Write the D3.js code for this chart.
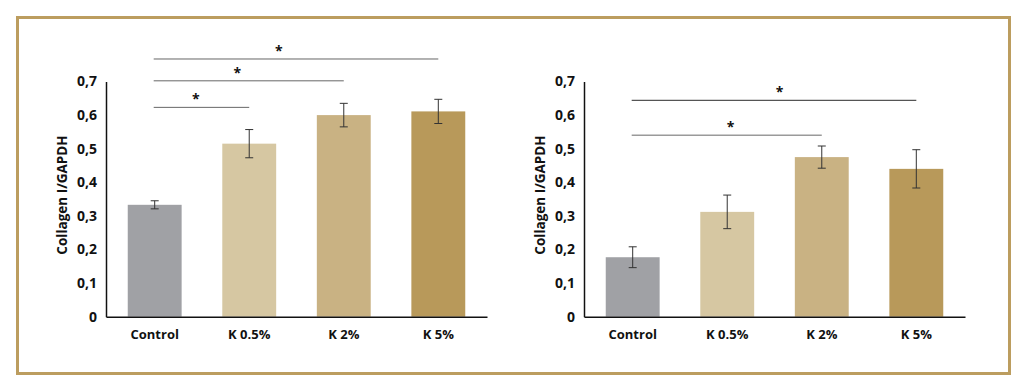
<!DOCTYPE html>
<html>
<script src="https://d3js.org/d3.v7.min.js"></script>
<style>
  body { margin: 0; background: #fff; }
  text { font-family: "Open Sans", sans-serif; font-weight: bold; fill: #111; }
</style>
<body>
<div id="chart"></div>

<script>
    // data
    var categories = ["Control", "K 0.5%", "K 2%", "K 5%"];
    var yTicks = [0, 0.1, 0.2, 0.3, 0.4, 0.5, 0.6, 0.7];
    var barColors = ["#a0a1a5", "#d6c7a2", "#c9b283", "#b8995a"];

    var leftMeans = [0.333, 0.515, 0.600, 0.611];
    var leftErrors = [0.012, 0.042, 0.035, 0.036];
    // [from index, to index, height]
    var leftSig = [[0, 3, 0.767], [0, 2, 0.702], [0, 1, 0.623]];

    var rightMeans = [0.177, 0.312, 0.475, 0.440];
    var rightErrors = [0.031, 0.050, 0.033, 0.057];
    var rightSig = [[0, 3, 0.644], [0, 2, 0.540]];

    var svg = d3.select("#chart")
        .append("svg")
        .attr("width", 1024)
        .attr("height", 389);

    // gold frame
    svg.append("rect")
        .attr("x", 17.5)
        .attr("y", 17.5)
        .attr("width", 992)
        .attr("height", 356)
        .attr("fill", "none")
        .attr("stroke", "#bc9d5f")
        .attr("stroke-width", 3);

    var y = d3.scaleLinear().domain([0, 0.7]).range([316.7, 81.5]);

    function drawPanel(x0, means, errors, sig, starAt, sigColors) {
        var g = svg.append("g").attr("transform", "translate(" + x0 + ",0)");

        var x = d3.scaleBand()
            .domain(categories)
            .range([0, 381])
            .paddingInner(0.43)
            .paddingOuter(0.23);

        // bars
        g.selectAll(".bar")
            .data(means)
            .enter().append("rect")
            .attr("x", function (d, i) { return x(categories[i]); })
            .attr("y", function (d) { return y(d); })
            .attr("width", x.bandwidth())
            .attr("height", function (d) { return y(0) - y(d); })
            .attr("fill", function (d, i) { return barColors[i]; });

        // error bars
        var eb = g.selectAll(".err")
            .data(means)
            .enter().append("g")
            .attr("stroke", "#333")
            .attr("stroke-width", 1);
        eb.append("line")
            .attr("x1", function (d, i) { return x(categories[i]) + x.bandwidth() / 2; })
            .attr("x2", function (d, i) { return x(categories[i]) + x.bandwidth() / 2; })
            .attr("y1", function (d, i) { return y(d + errors[i]); })
            .attr("y2", function (d, i) { return y(d - errors[i]); });
        [1, -1].forEach(function (s) {
            eb.append("line")
                .attr("x1", function (d, i) { return x(categories[i]) + x.bandwidth() / 2 - 4; })
                .attr("x2", function (d, i) { return x(categories[i]) + x.bandwidth() / 2 + 4; })
                .attr("y1", function (d, i) { return y(d + s * errors[i]); })
                .attr("y2", function (d, i) { return y(d + s * errors[i]); });
        });

        // significance lines + stars
        sig.forEach(function (s, k) {
            var xa = x(categories[s[0]]) + x.bandwidth() / 2 - 1;
            var xb = x(categories[s[1]]) + x.bandwidth() / 2;
            g.append("line")
                .attr("x1", xa).attr("x2", xb)
                .attr("y1", y(s[2])).attr("y2", y(s[2]))
                .attr("stroke", sigColors[k][0])
                .attr("stroke-width", sigColors[k][1]);
            g.append("text")
                .attr("x", xa + starAt * (xb - xa))
                .attr("y", y(s[2]) - 3)
                .attr("text-anchor", "middle")
                .style("font-size", "14px")
                .text("*");
        });

        // y axis
        var yAxis = g.append("g")
            .call(d3.axisLeft(y).tickValues(yTicks).tickSize(0).tickPadding(9)
                .tickFormat(function (d) { return d === 0 ? "0" : d3.format(".1f")(d).replace(".", ","); }));
        yAxis.select(".domain").attr("stroke", "#111").attr("stroke-width", 1.5);
        yAxis.selectAll("text").style("font-size", "14px");

        // x axis
        var xAxis = g.append("g")
            .attr("transform", "translate(0," + y(0) + ")")
            .call(d3.axisBottom(x).tickSize(0).tickPadding(13));
        xAxis.select(".domain").attr("stroke", "#111").attr("stroke-width", 1.5);
        xAxis.selectAll("text").style("font-size", "13px");

        g.append("text")
            .attr("transform", "translate(-39,195) rotate(-90)")
            .attr("text-anchor", "middle")
            .style("font-size", "13.5px")
            .text("Collagen I/GAPDH");
    }

    drawPanel(106, leftMeans, leftErrors, leftSig, 0.44,
        [["#666", 1], ["#666", 1], ["#666", 1]]);
    drawPanel(584, rightMeans, rightErrors, rightSig, 0.52,
        [["#555", 1.2], ["#9a9a9a", 1.6]]);
</script>

</body>
</html>
